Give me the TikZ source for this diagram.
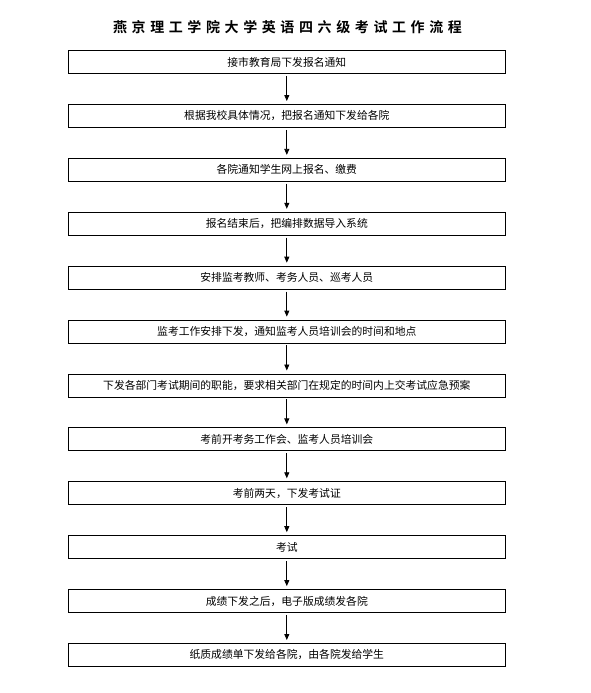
\documentclass[tikz,border=0pt]{standalone}
\usepackage{fontspec}
\setmainfont{Noto Sans CJK SC}
\newfontfamily\titlefont{Noto Sans CJK SC Bold}
\usetikzlibrary{arrows.meta}
\tikzset{
  stepbox/.style={draw=black, line width=0.8pt, minimum width=437.7pt, minimum height=23pt, inner sep=0pt, font=\fontsize{10.8pt}{12pt}\selectfont, anchor=center},
  flowarrow/.style={draw=black, line width=0.8pt, -{Triangle[length=6pt,width=5pt]}, shorten <=2pt, shorten >=3pt},
  titletext/.style={font=\titlefont\fontsize{14pt}{15pt}\selectfont, inner sep=0pt}
}
\newcommand{\tk}{\kern4.6pt}
\begin{document}
\begin{tikzpicture}[x=1pt,y=-1pt]
\useasboundingbox (0,0) rectangle (591,693);
\node[titletext] (title) at (287.5,27) {燕\tk 京\tk 理\tk 工\tk 学\tk 院\tk 大\tk 学\tk 英\tk 语\tk 四\tk 六\tk 级\tk 考\tk 试\tk 工\tk 作\tk 流\tk 程};
\node[stepbox] (b1) at (286.8,62.0) {接市教育局下发报名通知};
\node[stepbox] (b2) at (286.8,115.9) {根据我校具体情况，把报名通知下发给各院};
\node[stepbox] (b3) at (286.8,169.8) {各院通知学生网上报名、缴费};
\node[stepbox] (b4) at (286.8,223.7) {报名结束后，把编排数据导入系统};
\node[stepbox] (b5) at (286.8,277.6) {安排监考教师、考务人员、巡考人员};
\node[stepbox] (b6) at (286.8,331.5) {监考工作安排下发，通知监考人员培训会的时间和地点};
\node[stepbox] (b7) at (286.8,385.4) {下发各部门考试期间的职能，要求相关部门在规定的时间内上交考试应急预案};
\node[stepbox] (b8) at (286.8,439.3) {考前开考务工作会、监考人员培训会};
\node[stepbox] (b9) at (286.8,493.2) {考前两天，下发考试证};
\node[stepbox] (b10) at (286.8,547.1) {考试};
\node[stepbox] (b11) at (286.8,601.0) {成绩下发之后，电子版成绩发各院};
\node[stepbox] (b12) at (286.8,654.9) {纸质成绩单下发给各院，由各院发给学生};
\foreach \a/\b in {b1/b2,b2/b3,b3/b4,b4/b5,b5/b6,b6/b7,b7/b8,b8/b9,b9/b10,b10/b11,b11/b12}
  \draw[flowarrow] (\a) -- (\b);
\end{tikzpicture}
\end{document}
